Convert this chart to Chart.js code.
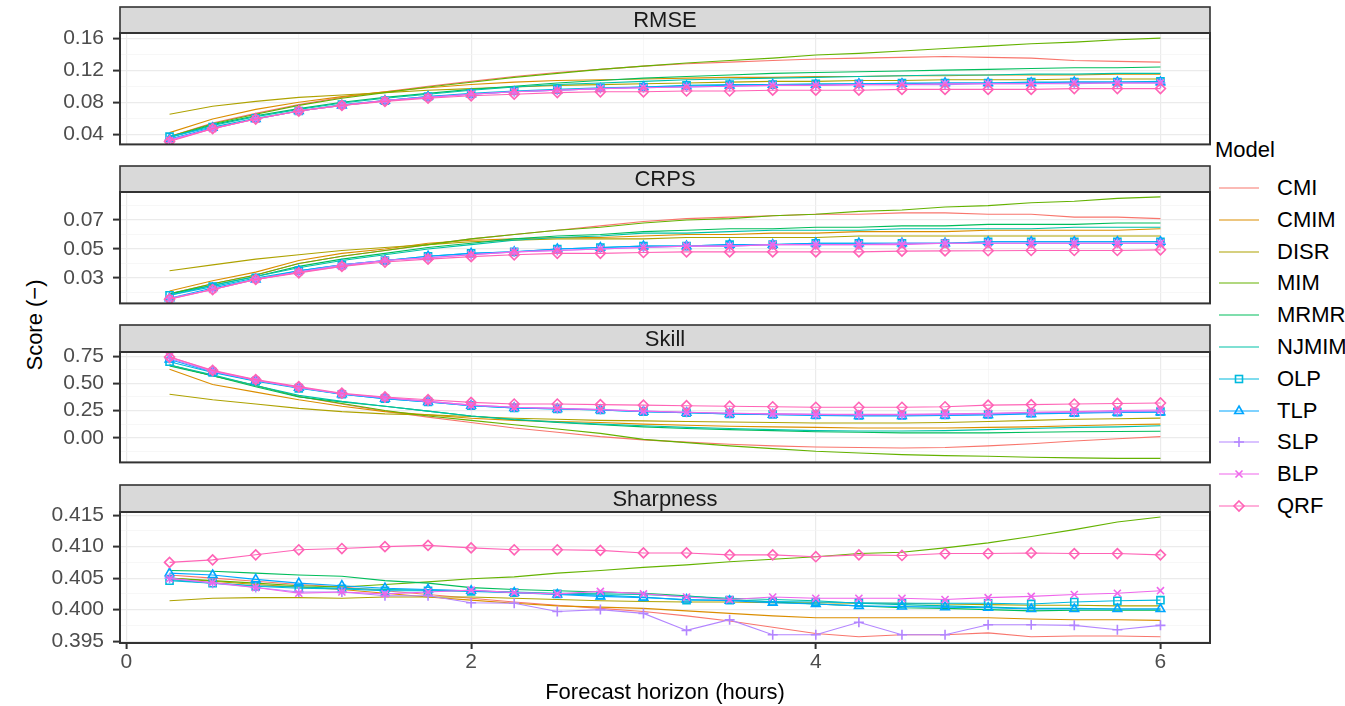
<!DOCTYPE html>
<html>
<head>
<meta charset="utf-8">
<script src="https://cdn.jsdelivr.net/npm/chart.js@4.4.1/dist/chart.umd.min.js"></script>
<style>
  body { margin: 0; width: 1345px; height: 706px; overflow: hidden; position: relative; background: #fff; font-family: "Liberation Sans", Arial, sans-serif; }
  canvas { position: absolute; left: 0; }
  #ytitle { position: absolute; left: 35px; top: 325px; transform: translate(-50%, -50%) rotate(-90deg); font-size: 22px; color: #000; white-space: nowrap; }
  #legend { position: absolute; left: 0; top: 0; }
  .lg-title { position: absolute; left: 1215px; top: 137px; font-size: 22px; line-height: 26px; color: #000; }
  .lg-item { position: absolute; left: 1219px; height: 26px; white-space: nowrap; }
  .lg-item svg { position: absolute; left: 0; top: 0; }
  .lg-item span { position: absolute; left: 58px; top: 0; font-size: 22px; line-height: 26px; color: #000; }
</style>
</head>
<body>
<div id="ytitle">Score (−)</div>
<div id="legend"></div>
<script>
// forecast horizons (hours)
const hours = [0.25, 0.5, 0.75, 1, 1.25, 1.5, 1.75, 2, 2.25, 2.5, 2.75, 3,
               3.25, 3.5, 3.75, 4, 4.25, 4.5, 4.75, 5, 5.25, 5.5, 5.75, 6];

const models = ['CMI', 'CMIM', 'DISR', 'MIM', 'MRMR', 'NJMIM', 'OLP', 'TLP', 'SLP', 'BLP', 'QRF'];
const colors = ['#F8766D', '#DB8E00', '#AEA200', '#64B200', '#00BD5C', '#00C1A7',
                '#00BADE', '#00A6FF', '#B385FF', '#EF67EB', '#FF63B6'];
const shapes = [null, null, null, null, null, null, 'rect', 'triangle', 'cross', 'crossRot', 'rectRot'];

// RMSE, one row per model (same order as models)
const rmseValues = [
  [0.037,0.054,0.066,0.077,0.086,0.093,0.100,0.106,0.112,0.117,0.121,0.125,0.128,0.130,0.132,0.134,0.135,0.136,0.137,0.136,0.135,0.132,0.131,0.130],
  [0.042,0.059,0.071,0.080,0.087,0.093,0.098,0.102,0.105,0.107,0.108,0.109,0.110,0.111,0.111,0.112,0.112,0.113,0.113,0.114,0.114,0.114,0.115,0.115],
  [0.065,0.075,0.081,0.086,0.089,0.092,0.095,0.097,0.099,0.101,0.102,0.103,0.104,0.105,0.106,0.106,0.107,0.107,0.108,0.108,0.108,0.109,0.109,0.109],
  [0.037,0.053,0.065,0.076,0.085,0.092,0.099,0.105,0.111,0.116,0.121,0.125,0.129,0.132,0.135,0.139,0.141,0.144,0.147,0.150,0.153,0.155,0.158,0.160],
  [0.036,0.052,0.063,0.072,0.080,0.086,0.091,0.096,0.100,0.104,0.107,0.110,0.112,0.114,0.116,0.117,0.118,0.119,0.120,0.121,0.122,0.123,0.123,0.124],
  [0.036,0.051,0.062,0.071,0.079,0.085,0.090,0.095,0.099,0.102,0.104,0.106,0.108,0.109,0.110,0.111,0.112,0.113,0.114,0.114,0.115,0.115,0.116,0.116],
  [0.037,0.049,0.060,0.069,0.077,0.082,0.087,0.091,0.094,0.096,0.098,0.099,0.101,0.102,0.102,0.103,0.103,0.104,0.104,0.104,0.105,0.105,0.105,0.106],
  [0.034,0.048,0.059,0.069,0.076,0.082,0.087,0.090,0.093,0.095,0.097,0.099,0.100,0.101,0.102,0.102,0.103,0.103,0.104,0.104,0.104,0.105,0.105,0.105],
  [0.033,0.047,0.059,0.069,0.076,0.082,0.086,0.090,0.093,0.095,0.097,0.098,0.099,0.100,0.101,0.101,0.102,0.102,0.102,0.103,0.103,0.103,0.104,0.104],
  [0.032,0.047,0.059,0.069,0.076,0.082,0.086,0.090,0.093,0.095,0.097,0.098,0.099,0.100,0.101,0.101,0.102,0.102,0.103,0.103,0.103,0.104,0.104,0.104],
  [0.031,0.047,0.059,0.069,0.076,0.081,0.085,0.088,0.090,0.092,0.093,0.093,0.094,0.094,0.095,0.095,0.095,0.096,0.096,0.096,0.096,0.097,0.097,0.097]
];

// CRPS
const crpsValues = [
  [0.019,0.026,0.032,0.040,0.045,0.049,0.053,0.057,0.060,0.063,0.066,0.069,0.071,0.072,0.073,0.074,0.074,0.075,0.075,0.074,0.074,0.072,0.072,0.071],
  [0.021,0.028,0.034,0.042,0.047,0.050,0.054,0.056,0.057,0.058,0.058,0.059,0.060,0.060,0.061,0.061,0.062,0.062,0.062,0.063,0.063,0.063,0.063,0.064],
  [0.035,0.039,0.043,0.046,0.049,0.051,0.053,0.055,0.056,0.057,0.057,0.057,0.058,0.058,0.058,0.058,0.059,0.059,0.059,0.059,0.059,0.059,0.059,0.059],
  [0.019,0.026,0.032,0.040,0.045,0.049,0.053,0.057,0.060,0.063,0.065,0.068,0.070,0.071,0.073,0.074,0.076,0.077,0.079,0.080,0.082,0.083,0.085,0.086],
  [0.019,0.025,0.031,0.038,0.043,0.047,0.051,0.054,0.057,0.059,0.060,0.062,0.063,0.064,0.064,0.065,0.065,0.066,0.066,0.067,0.067,0.067,0.068,0.068],
  [0.018,0.025,0.031,0.037,0.042,0.046,0.050,0.053,0.056,0.058,0.059,0.061,0.061,0.062,0.063,0.063,0.063,0.064,0.064,0.064,0.064,0.065,0.065,0.065],
  [0.018,0.024,0.030,0.035,0.039,0.042,0.045,0.047,0.048,0.050,0.051,0.052,0.052,0.053,0.053,0.054,0.054,0.054,0.054,0.055,0.055,0.055,0.055,0.055],
  [0.016,0.023,0.029,0.035,0.039,0.042,0.045,0.047,0.048,0.050,0.051,0.052,0.052,0.053,0.053,0.054,0.054,0.054,0.054,0.055,0.055,0.055,0.055,0.055],
  [0.016,0.022,0.029,0.034,0.039,0.042,0.044,0.046,0.048,0.049,0.050,0.051,0.052,0.052,0.053,0.053,0.053,0.054,0.054,0.054,0.054,0.054,0.054,0.054],
  [0.0155,0.022,0.029,0.034,0.038,0.042,0.044,0.046,0.048,0.049,0.050,0.051,0.052,0.052,0.053,0.053,0.053,0.053,0.054,0.054,0.054,0.054,0.054,0.054],
  [0.0153,0.022,0.029,0.0335,0.038,0.041,0.043,0.0447,0.046,0.047,0.047,0.0476,0.048,0.048,0.048,0.048,0.048,0.0485,0.0487,0.0488,0.049,0.049,0.049,0.0494]
];

// Skill
const skillValues = [
  [0.67,0.57,0.48,0.38,0.31,0.245,0.19,0.14,0.09,0.05,0.01,-0.02,-0.04,-0.06,-0.075,-0.085,-0.09,-0.095,-0.09,-0.075,-0.055,-0.03,-0.01,0.01],
  [0.63,0.49,0.42,0.35,0.29,0.24,0.21,0.18,0.16,0.15,0.14,0.125,0.115,0.105,0.10,0.095,0.09,0.09,0.09,0.095,0.10,0.11,0.12,0.125],
  [0.40,0.35,0.31,0.27,0.24,0.22,0.21,0.195,0.18,0.17,0.16,0.155,0.15,0.145,0.14,0.135,0.135,0.135,0.14,0.15,0.16,0.17,0.175,0.18],
  [0.67,0.57,0.48,0.38,0.315,0.25,0.20,0.16,0.12,0.08,0.04,-0.015,-0.045,-0.075,-0.10,-0.125,-0.14,-0.155,-0.165,-0.17,-0.18,-0.185,-0.19,-0.19],
  [0.66,0.57,0.47,0.375,0.33,0.29,0.245,0.20,0.165,0.14,0.12,0.10,0.085,0.075,0.065,0.055,0.05,0.045,0.045,0.045,0.05,0.055,0.058,0.06],
  [0.67,0.58,0.48,0.39,0.335,0.29,0.245,0.20,0.17,0.145,0.125,0.11,0.095,0.085,0.075,0.065,0.062,0.062,0.065,0.075,0.085,0.095,0.10,0.11],
  [0.70,0.60,0.52,0.455,0.40,0.36,0.33,0.295,0.275,0.265,0.255,0.24,0.23,0.22,0.215,0.21,0.205,0.205,0.21,0.215,0.225,0.23,0.235,0.24],
  [0.72,0.605,0.525,0.46,0.40,0.36,0.33,0.295,0.275,0.265,0.255,0.24,0.23,0.22,0.212,0.205,0.20,0.20,0.205,0.21,0.22,0.225,0.232,0.235],
  [0.73,0.61,0.53,0.46,0.405,0.365,0.335,0.30,0.28,0.27,0.26,0.245,0.235,0.225,0.22,0.215,0.21,0.21,0.215,0.22,0.23,0.235,0.24,0.245],
  [0.745,0.615,0.53,0.465,0.405,0.37,0.335,0.30,0.28,0.27,0.26,0.245,0.235,0.225,0.22,0.215,0.215,0.215,0.22,0.225,0.235,0.24,0.25,0.255],
  [0.742,0.62,0.535,0.47,0.41,0.375,0.35,0.325,0.31,0.31,0.305,0.30,0.295,0.29,0.285,0.28,0.28,0.28,0.285,0.30,0.305,0.31,0.315,0.32]
];

// Sharpness
const sharpValues = [
  [0.4055,0.4050,0.4045,0.4040,0.4036,0.4030,0.4024,0.4018,0.4012,0.4007,0.4002,0.3997,0.3990,0.3982,0.3972,0.3962,0.3957,0.3960,0.3960,0.3963,0.3957,0.3958,0.3958,0.3957],
  [0.4050,0.4045,0.4040,0.4036,0.4032,0.4026,0.4020,0.4015,0.4010,0.4006,0.4004,0.4002,0.3998,0.3994,0.3990,0.3987,0.3987,0.3987,0.3987,0.3987,0.3985,0.3984,0.3984,0.3983],
  [0.4014,0.4018,0.4019,0.4019,0.4018,0.4020,0.4020,0.4020,0.4018,0.4016,0.4014,0.4013,0.4012,0.4012,0.4011,0.4011,0.4010,0.4010,0.4009,0.4008,0.4007,0.4007,0.4006,0.4006],
  [0.4050,0.4046,0.4042,0.4038,0.4036,0.4040,0.4044,0.4049,0.4052,0.4058,0.4062,0.4067,0.4071,0.4076,0.4080,0.4084,0.4089,0.4091,0.4098,0.4106,0.4116,0.4127,0.4139,0.4147],
  [0.4062,0.4061,0.4058,0.4055,0.4053,0.4046,0.4042,0.4035,0.4032,0.4030,0.4028,0.4026,0.4022,0.4016,0.4012,0.4009,0.4006,0.4003,0.4002,0.4000,0.3998,0.3999,0.3999,0.3999],
  [0.4048,0.4042,0.4038,0.4036,0.4034,0.4032,0.4031,0.4030,0.4028,0.4026,0.4025,0.4024,0.4021,0.4018,0.4016,0.4014,0.4010,0.4008,0.4006,0.4004,0.4002,0.4002,0.4001,0.4001],
  [0.4046,0.4042,0.4037,0.4034,0.4033,0.4030,0.4030,0.4029,0.4027,0.4025,0.4023,0.4020,0.4015,0.4015,0.4013,0.4012,0.4011,0.4010,0.4010,0.4010,0.4009,0.4012,0.4014,0.4015],
  [0.4058,0.4055,0.4048,0.4042,0.4038,0.4034,0.4032,0.4030,0.4027,0.4024,0.4021,0.4019,0.4016,0.4014,0.4011,0.4009,0.4006,0.4005,0.4004,0.4003,0.4001,0.4001,0.4001,0.4001],
  [0.4050,0.4042,0.4035,0.4028,0.4028,0.4022,0.4022,0.4011,0.4010,0.3997,0.4000,0.3994,0.3967,0.3984,0.3960,0.3960,0.3980,0.3960,0.3960,0.3976,0.3976,0.3975,0.3968,0.3975],
  [0.4049,0.4043,0.4035,0.4026,0.4028,0.4025,0.4028,0.4031,0.4027,0.4025,0.4029,0.4025,0.4020,0.4016,0.4020,0.4018,0.4018,0.4018,0.4016,0.4019,0.4021,0.4024,0.4026,0.4030],
  [0.4075,0.4079,0.4087,0.4095,0.4097,0.4100,0.4102,0.4098,0.4095,0.4095,0.4094,0.4090,0.4090,0.4087,0.4087,0.4084,0.4087,0.4086,0.4089,0.4089,0.4090,0.4089,0.4089,0.4087]
];

// axis ticks per facet
const xMajor = [0, 2, 4, 6];
const rmseTicks = [0.04, 0.08, 0.12, 0.16];
const rmseMinor = [0.06, 0.10, 0.14];
const crpsTicks = [0.03, 0.05, 0.07];
const crpsMinor = [0.02, 0.04, 0.06, 0.08];
const skillTicks = [0.00, 0.25, 0.50, 0.75];
const skillMinor = [-0.125, 0.125, 0.375, 0.625];
const sharpTicks = [0.395, 0.400, 0.405, 0.410, 0.415];
const sharpMinor = [0.3975, 0.4025, 0.4075, 0.4125];

const facets = [
  { title: 'RMSE', values: rmseValues, major: rmseTicks, minor: rmseMinor, digits: 2, min: 0.0273, max: 0.1664, stripTop: 7, top: 33, bottom: 164 },
  { title: 'CRPS', values: crpsValues, major: crpsTicks, minor: crpsMinor, digits: 2, min: 0.0124, max: 0.0894, stripTop: 166, top: 192, bottom: 323 },
  { title: 'Skill', values: skillValues, major: skillTicks, minor: skillMinor, digits: 2, min: -0.227, max: 0.789, stripTop: 325, top: 352, bottom: 482 },
  { title: 'Sharpness', values: sharpValues, major: sharpTicks, minor: sharpMinor, digits: 3, min: 0.3947, max: 0.4155, stripTop: 485, top: 512, bottom: 643 }
];

const W = 1345, H = 706;
const plotLeft = 120, plotRight = 1210;
const family = '"Liberation Sans", Arial, sans-serif';
const tickFont = { family, size: 21 };
const titleFont = { family, size: 22 };
const isIn = (arr, v) => arr.some(a => Math.abs(a - v) < 1e-9);

function stripPlugin(title, stripTop) {
  return {
    id: 'strip',
    afterDraw(chart) {
      const { ctx, chartArea: a } = chart;
      ctx.save();
      ctx.fillStyle = '#D9D9D9';
      ctx.fillRect(a.left, stripTop, a.right - a.left, a.top - stripTop);
      ctx.strokeStyle = '#333333';
      ctx.lineWidth = 1.6;
      ctx.strokeRect(a.left, stripTop, a.right - a.left, a.top - stripTop);
      ctx.lineWidth = 2;
      ctx.strokeRect(a.left, a.top, a.right - a.left, a.bottom - a.top);
      ctx.fillStyle = '#1A1A1A';
      ctx.font = `22px ${family}`;
      ctx.textAlign = 'center';
      ctx.textBaseline = 'middle';
      ctx.fillText(title, (a.left + a.right) / 2, (stripTop + a.top) / 2 + 1);
      ctx.restore();
    }
  };
}

facets.forEach((f, k) => {
  const last = k === facets.length - 1;
  const canvasTop = f.stripTop - 2;
  const height = last ? H - canvasTop : f.bottom - canvasTop + 2;
  const cv = document.createElement('canvas');
  cv.width = W; cv.height = height;
  cv.style.top = canvasTop + 'px';
  document.body.appendChild(cv);

  const datasets = models.map((m, i) => ({
    label: m,
    data: hours.map((h, j) => ({ x: h, y: f.values[i][j] })),
    borderColor: colors[i],
    borderWidth: 1.1,
    pointStyle: shapes[i] || 'circle',
    pointRadius: shapes[i] ? 5 : 0,
    pointBorderWidth: 1.6,
    pointBorderColor: colors[i],
    pointBackgroundColor: 'rgba(0,0,0,0)',
    tension: 0,
    order: models.length - i
  }));

  new Chart(cv.getContext('2d'), {
    type: 'line',
    data: { datasets },
    options: {
      responsive: false,
      animation: false,
      devicePixelRatio: 1,
      layout: { padding: { top: f.top - canvasTop, bottom: last ? 0 : 2, left: 0, right: W - plotRight } },
      plugins: { legend: { display: false }, tooltip: { enabled: false } },
      scales: {
        x: {
          type: 'linear',
          min: -0.0375,
          max: 6.2875,
          afterBuildTicks: s => { s.ticks = [0, 1, 2, 3, 4, 5, 6].map(v => ({ value: v })); },
          afterFit: s => { s.height = last ? H - f.bottom : 0; },
          border: { display: false },
          grid: {
            color: c => isIn(xMajor, c.tick.value) ? '#EBEBEB' : '#F4F4F4',
            lineWidth: c => isIn(xMajor, c.tick.value) ? 1.2 : 0.7,
            drawTicks: last,
            tickLength: 6,
            tickWidth: 2,
            tickColor: c => isIn(xMajor, c.tick.value) ? '#333333' : 'rgba(0,0,0,0)'
          },
          ticks: {
            display: last,
            autoSkip: false,
            maxRotation: 0,
            padding: 1,
            font: tickFont,
            color: '#4D4D4D',
            callback: v => isIn(xMajor, v) ? String(v) : ''
          },
          title: {
            display: last,
            text: 'Forecast horizon (hours)',
            font: titleFont,
            color: '#000',
            padding: { top: 0, bottom: 0 }
          }
        },
        y: {
          type: 'linear',
          min: f.min,
          max: f.max,
          afterBuildTicks: s => { s.ticks = f.major.concat(f.minor).sort((a, b) => a - b).map(v => ({ value: v })); },
          afterFit: s => { s.width = plotLeft; },
          border: { display: false },
          grid: {
            color: c => isIn(f.major, c.tick.value) ? '#EBEBEB' : '#F4F4F4',
            lineWidth: c => isIn(f.major, c.tick.value) ? 1.2 : 0.7,
            tickLength: 7,
            tickWidth: 2,
            tickColor: c => isIn(f.major, c.tick.value) ? '#333333' : 'rgba(0,0,0,0)'
          },
          ticks: {
            autoSkip: false,
            padding: 9,
            font: tickFont,
            color: '#4D4D4D',
            callback: v => isIn(f.major, v) ? v.toFixed(f.digits) : ''
          }
        }
      }
    },
    plugins: [stripPlugin(f.title, f.stripTop - canvasTop)]
  });
});

// legend
const legend = document.getElementById('legend');
const title = document.createElement('div');
title.className = 'lg-title';
title.textContent = 'Model';
legend.appendChild(title);

function markerSvg(shape, c) {
  const cx = 20, cy = 13;
  const st = `fill="none" stroke="${c}" stroke-width="1.6"`;
  if (shape === 'rect') return `<rect x="${cx - 3.5}" y="${cy - 3.5}" width="7" height="7" ${st}/>`;
  if (shape === 'triangle') return `<polygon points="${cx},${cy - 5} ${cx + 4.3},${cy + 2.5} ${cx - 4.3},${cy + 2.5}" ${st}/>`;
  if (shape === 'cross') return `<path d="M${cx - 5} ${cy}H${cx + 5}M${cx} ${cy - 5}V${cy + 5}" ${st}/>`;
  if (shape === 'crossRot') return `<path d="M${cx - 3.5} ${cy - 3.5}L${cx + 3.5} ${cy + 3.5}M${cx - 3.5} ${cy + 3.5}L${cx + 3.5} ${cy - 3.5}" ${st}/>`;
  if (shape === 'rectRot') return `<polygon points="${cx},${cy - 5} ${cx + 5},${cy} ${cx},${cy + 5} ${cx - 5},${cy}" ${st}/>`;
  return '';
}

models.forEach((m, i) => {
  const item = document.createElement('div');
  item.className = 'lg-item';
  item.style.top = (188 + i * 31.8 - 13) + 'px';
  item.innerHTML = `<svg width="40" height="26"><line x1="0" y1="13" x2="40" y2="13" stroke="${colors[i]}" stroke-width="1.2"/>${markerSvg(shapes[i], colors[i])}</svg><span>${m}</span>`;
  legend.appendChild(item);
});
</script>
</body>
</html>
